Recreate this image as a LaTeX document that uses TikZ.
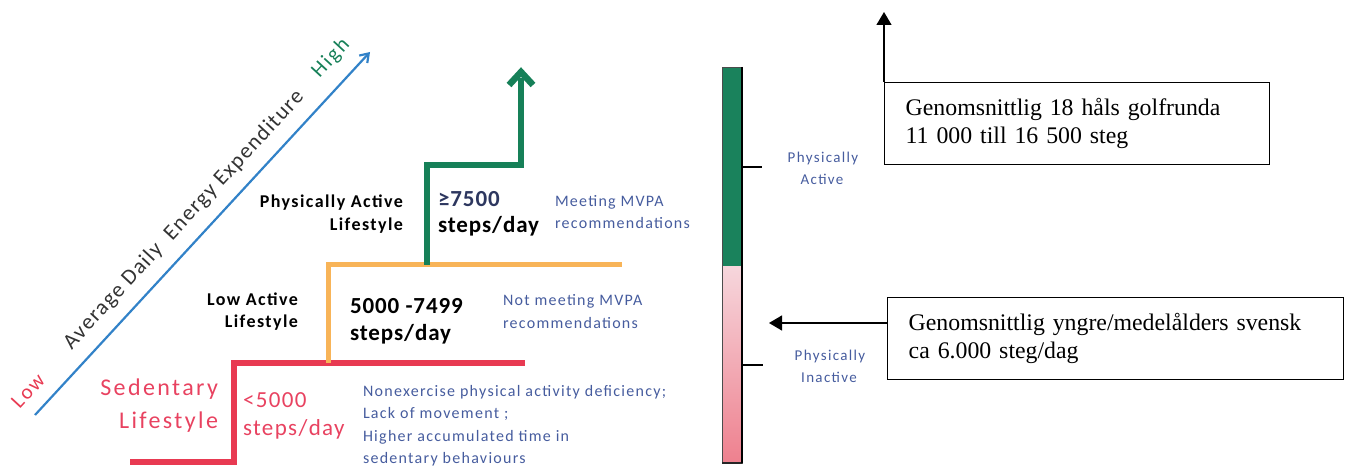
\documentclass[tikz,border=0pt]{standalone}
\usepackage{fontspec}
\setmainfont{Carlito}
\newfontfamily\tnr{Liberation Serif}
\usetikzlibrary{arrows.meta}
\definecolor{axisblue}{RGB}{50,130,200}
\definecolor{sedred}{RGB}{232,58,82}
\definecolor{sedtxt}{RGB}{232,66,96}
\definecolor{lowor}{RGB}{248,180,88}
\definecolor{actgreen}{RGB}{22,128,88}
\definecolor{bargreen}{RGB}{26,130,92}
\definecolor{txtblue}{RGB}{70,92,158}
\definecolor{navy}{RGB}{45,55,95}
\definecolor{barpinktop}{RGB}{246,214,220}
\definecolor{barpinkbot}{RGB}{238,128,142}
\begin{document}
\begin{tikzpicture}[x=1pt,y=-1pt,
  lbl/.style={inner sep=0pt, outer sep=0pt},
  bigred/.style={lbl, text=sedtxt, font=\fontsize{24}{28}\selectfont\addfontfeatures{LetterSpace=10}},
  stepred/.style={lbl, text=sedtxt, font=\fontsize{23}{28}\selectfont\addfontfeatures{LetterSpace=6}},
  stepblk/.style={lbl, text=black, font=\fontsize{23}{28}\selectfont\bfseries\addfontfeatures{LetterSpace=4}},
  lifelbl/.style={lbl, text=black, font=\fontsize{18}{21}\selectfont\bfseries\addfontfeatures{LetterSpace=8}},
  desc/.style={lbl, text=txtblue, font=\fontsize{16}{19}\selectfont\addfontfeatures{LetterSpace=8}},
  barlbl/.style={lbl, text=txtblue, font=\fontsize{15}{18}\selectfont\addfontfeatures{LetterSpace=9}},
  endlbl/.style={lbl, rotate=47.3, font=\fontsize{21}{24}\selectfont\addfontfeatures{LetterSpace=10}},
  infobox/.style={draw, line width=1.4pt, inner xsep=21pt, inner ysep=0pt, align=left,
     font=\tnr\fontsize{23.8}{27.5}\selectfont, minimum height=82pt},
  connector/.style={line width=1.3pt, -{Triangle[length=13pt,width=15pt]}}
]
\useasboundingbox (0,0) rectangle (1351,470);

% energy axis
\coordinate (lo) at (35,415);
\coordinate (hi) at (370,52);
\draw[axisblue, line width=2.2pt, -{Straight Barb[length=8pt,width=11pt]}] (lo) -- (hi);
\node[lbl, rotate=47.3, text=black!80, font=\fontsize{22}{26}\selectfont\addfontfeatures{LetterSpace=6}] (axlbl) at (184,220) {Average Daily\ \ Energy Expenditure};
\node[endlbl, text=sedred] (lowlbl) at (28,391) {Low};
\node[endlbl, text=actgreen] (highlbl) at (331,58) {High};

% steps
\draw[sedred, line width=6pt] (130,462) -- (234,462) -- (234,363) -- (525,363);
\draw[lowor, line width=5pt] (328,363) -- (328,265) -- (622,265);
\draw[actgreen, line width=6.5pt] (427,265) -- (427,165) -- (521,165) -- (521,78);
\draw[actgreen, line width=6.5pt, miter limit=10] (509,85) -- (521,72) -- (533,85);

% sedentary level
\node[bigred, anchor=base east] (sed1) at (218,395) {Sedentary};
\node[bigred, anchor=base east] (sed2) at (218,428) {Lifestyle};
\node[stepred, anchor=base west] (sst1) at (243,407) {<5000};
\node[stepred, anchor=base west] (sst2) at (243,435) {steps/day};
\node[desc, anchor=base west] (sd1) at (363,396) {Nonexercise physical activity deficiency;};
\node[desc, anchor=base west] (sd2) at (363,418) {Lack of movement ;};
\node[desc, anchor=base west] (sd3) at (363,441) {Higher accumulated time in};
\node[desc, anchor=base west] (sd4) at (363,463) {sedentary behaviours};

% low active level
\node[lifelbl, anchor=base east] (la1) at (298,305) {Low Active};
\node[lifelbl, anchor=base east] (la2) at (298,327) {Lifestyle};
\node[stepblk, anchor=base west] (lst1) at (350,313) {5000 -7499};
\node[stepblk, anchor=base west] (lst2) at (350,340) {steps/day};
\node[desc, anchor=base west] (ld1) at (503,305) {Not meeting MVPA};
\node[desc, anchor=base west] (ld2) at (503,328) {recommendations};

% physically active level
\node[lifelbl, anchor=base east] (pa1) at (403,208) {Physically Active};
\node[lifelbl, anchor=base east] (pa2) at (403,231) {Lifestyle};
\node[stepblk, anchor=base west, text=navy] (pst1) at (438,207) {≥7500};
\node[stepblk, anchor=base west] (pst2) at (438,233) {steps/day};
\node[desc, anchor=base west] (pd1) at (555,207) {Meeting MVPA};
\node[desc, anchor=base west] (pd2) at (555,229) {recommendations};

% bar
\fill[bargreen] (722,67) rectangle (742,267);
\shade[top color=barpinktop, bottom color=barpinkbot] (722,267) rectangle (742,463);
\draw[black!70, line width=0.6pt] (722,67) rectangle (742,463);
\draw[black!85, line width=1.2pt] (722,463) -- (742,463);
\draw[line width=2pt] (742,67) -- (742,463);
\draw[line width=1.8pt] (742,167) -- (762,167);
\draw[line width=1.8pt] (742,365) -- (763,365);
\node[barlbl, anchor=base] (ba1) at (823,163) {Physically};
\node[barlbl, anchor=base] (ba2) at (822,185) {Active};
\node[barlbl, anchor=base] (bi1) at (830,360) {Physically};
\node[barlbl, anchor=base] (bi2) at (829,382) {Inactive};

% info boxes
\node[infobox, anchor=north west, minimum width=385pt, text width=343pt] (box1) at (884,82)
  {Genomsnittlig 18 håls golfrunda\\11 000 till 16 500 steg};
\node[infobox, anchor=north west, minimum width=456pt, text width=414pt] (box2) at (887,297)
  {Genomsnittlig yngre/medelålders svensk\\ca 6.000 steg/dag};
\coordinate (b1tip) at (884,12);
\draw[connector] (box1.north west) -- (b1tip);
\coordinate (b2s) at (887,323);
\coordinate (b2t) at (769,323);
\draw[connector] (b2s) -- (b2t);
\end{tikzpicture}
\end{document}
